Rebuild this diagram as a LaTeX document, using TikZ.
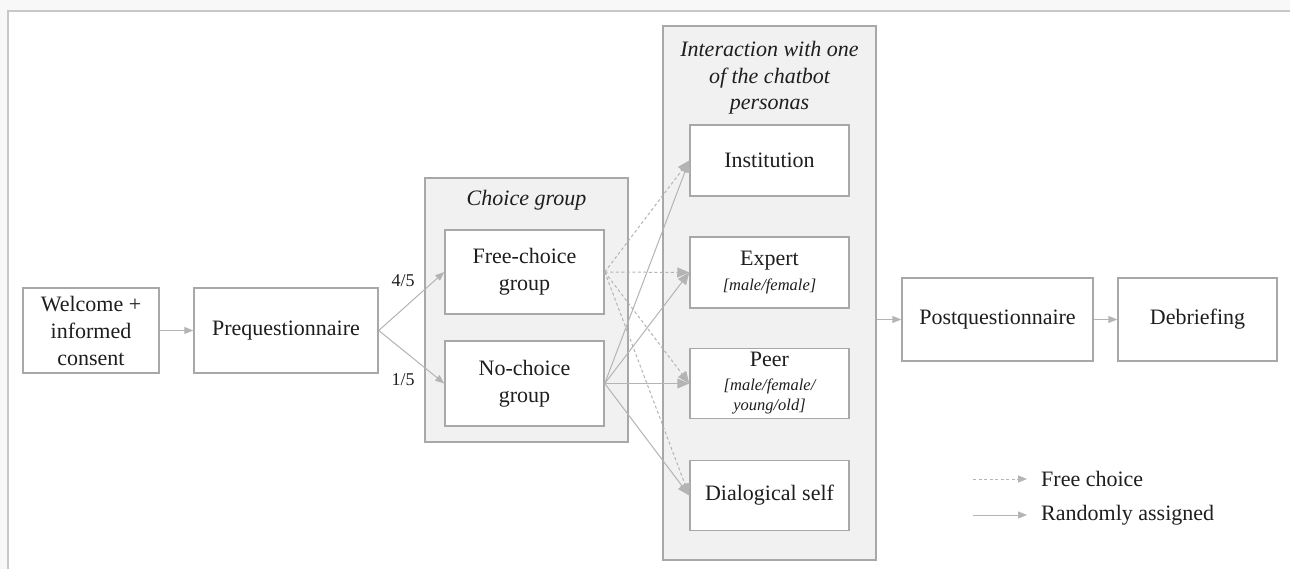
\documentclass[tikz,border=0pt]{standalone}
\usepackage{fontspec}
\setmainfont{Liberation Serif}
\newfontfamily\mainf{Liberation Serif}
\usetikzlibrary{arrows.meta}
\definecolor{boxline}{HTML}{A8A8A8}
\definecolor{conn}{HTML}{B4B4B4}
\definecolor{grpfill}{HTML}{F1F1F1}
\definecolor{txt}{HTML}{1E1E1E}
\definecolor{frameline}{HTML}{C8C8C8}
\definecolor{outerbg}{HTML}{F8F8F8}
\newcommand{\subfnt}{\mainf\fontsize{16.5}{20}\selectfont\itshape}
\tikzset{
  stepbox/.style={draw=boxline, line width=1.5pt, fill=white, inner sep=0pt,
    align=center, text=txt, font=\mainf\fontsize{22}{27}\selectfont},
  grpbox/.style={draw=boxline, line width=1.5pt, fill=grpfill, inner sep=0pt},
  lbl/.style={text=txt, inner sep=0pt, align=center},
  flow/.style={draw=conn, line width=1pt, -{Triangle[length=9pt,width=7pt]}, color=conn},
  pflow/.style={draw=conn, line width=1pt, -{Triangle[length=12pt,width=10pt]}, color=conn},
  pdash/.style={pflow, dash pattern=on 3pt off 2.5pt},
  ldash/.style={flow, dash pattern=on 3pt off 2.5pt},
}
\begin{document}
\begin{tikzpicture}[x=1pt,y=-1pt]
\useasboundingbox (0,0) rectangle (1290,569);
\fill[outerbg] (0,0) rectangle (1290,569);
\fill[white] (8,11) rectangle (1290,569);
\draw[frameline, line width=2pt] (8,569) -- (8,11) -- (1290,11);

% left flow
\node[stepbox, minimum width=136pt, minimum height=85pt] (welcome) at (91,330.5) {Welcome +\\informed\\consent};
\node[stepbox, minimum width=184pt, minimum height=85pt] (pre) at (286,330.5) {Prequestionnaire};

% choice group
\node[grpbox, minimum width=203pt, minimum height=264pt] (choicegrp) at (526.5,310) {};
\node[lbl, font=\mainf\fontsize{22}{27}\selectfont\itshape] (choicetitle) at (526.5,200) {Choice group};
\node[stepbox, minimum width=159pt, minimum height=84pt] (free) at (524.5,272) {Free-choice\\group};
\node[stepbox, minimum width=159pt, minimum height=85pt] (nochoice) at (524.5,383.5) {No-choice\\group};

% interaction group
\node[grpbox, minimum width=213pt, minimum height=534pt] (interact) at (769.5,293) {};
\node[lbl, font=\mainf\fontsize{22}{26.5}\selectfont\itshape] (inttitle) at (769.5,78) {Interaction with one\\of the chatbot\\personas};
\node[stepbox, minimum width=159pt, minimum height=71pt] (inst) at (769.5,160.5) {Institution};
\node[stepbox, minimum width=159pt, minimum height=71pt] (expert) at (769.5,272.5) {Expert\\[-2pt]\subfnt [male/female]};
\node[stepbox, minimum width=159pt, minimum height=70pt] (peer) at (769.5,383.5) {Peer\\[-3pt]\subfnt [male/female/\\[-7pt]\subfnt young/old]};
\node[stepbox, minimum width=159pt, minimum height=70pt] (dial) at (769.5,495.5) {Dialogical self};

% right flow
\node[stepbox, minimum width=191pt, minimum height=83pt] (post) at (997.5,319.5) {Postquestionnaire};
\node[stepbox, minimum width=159pt, minimum height=83pt] (deb) at (1197.5,319.5) {Debriefing};

% labels
\node[lbl, font=\mainf\fontsize{18}{22}\selectfont] (l45) at (403,281) {4/5};
\node[lbl, font=\mainf\fontsize{18}{22}\selectfont] (l15) at (403,380) {1/5};

% connectors
\draw[flow] (welcome.east) -- (pre.west);
\draw[flow] (pre.east) -- (free.west);
\draw[flow] (pre.east) -- (nochoice.west);

\draw[pdash] (free.east) -- (inst.west);
\draw[pdash] (free.east) -- (expert.west);
\draw[pdash] (free.east) -- (peer.west);
\draw[pdash] (free.east) -- (dial.west);
\draw[pflow] (nochoice.east) -- (inst.west);
\draw[pflow] (nochoice.east) -- (expert.west);
\draw[pflow] (nochoice.east) -- (peer.west);
\draw[pflow] (nochoice.east) -- (dial.west);

\draw[flow] (interact.east |- post.west) -- (post.west);
\draw[flow] (post.east) -- (deb.west);

% legend
\coordinate (ld1) at (973,479);
\coordinate (ld2) at (1027,479);
\coordinate (ls1) at (973,515);
\coordinate (ls2) at (1027,515);
\draw[ldash] (ld1) -- (ld2);
\draw[flow] (ls1) -- (ls2);
\node[lbl, anchor=west, font=\mainf\fontsize{22}{27}\selectfont] (legfree) at (1041,479) {Free choice};
\node[lbl, anchor=west, font=\mainf\fontsize{22}{27}\selectfont] (legrand) at (1041,515) {Randomly assigned};
\end{tikzpicture}
\end{document}
